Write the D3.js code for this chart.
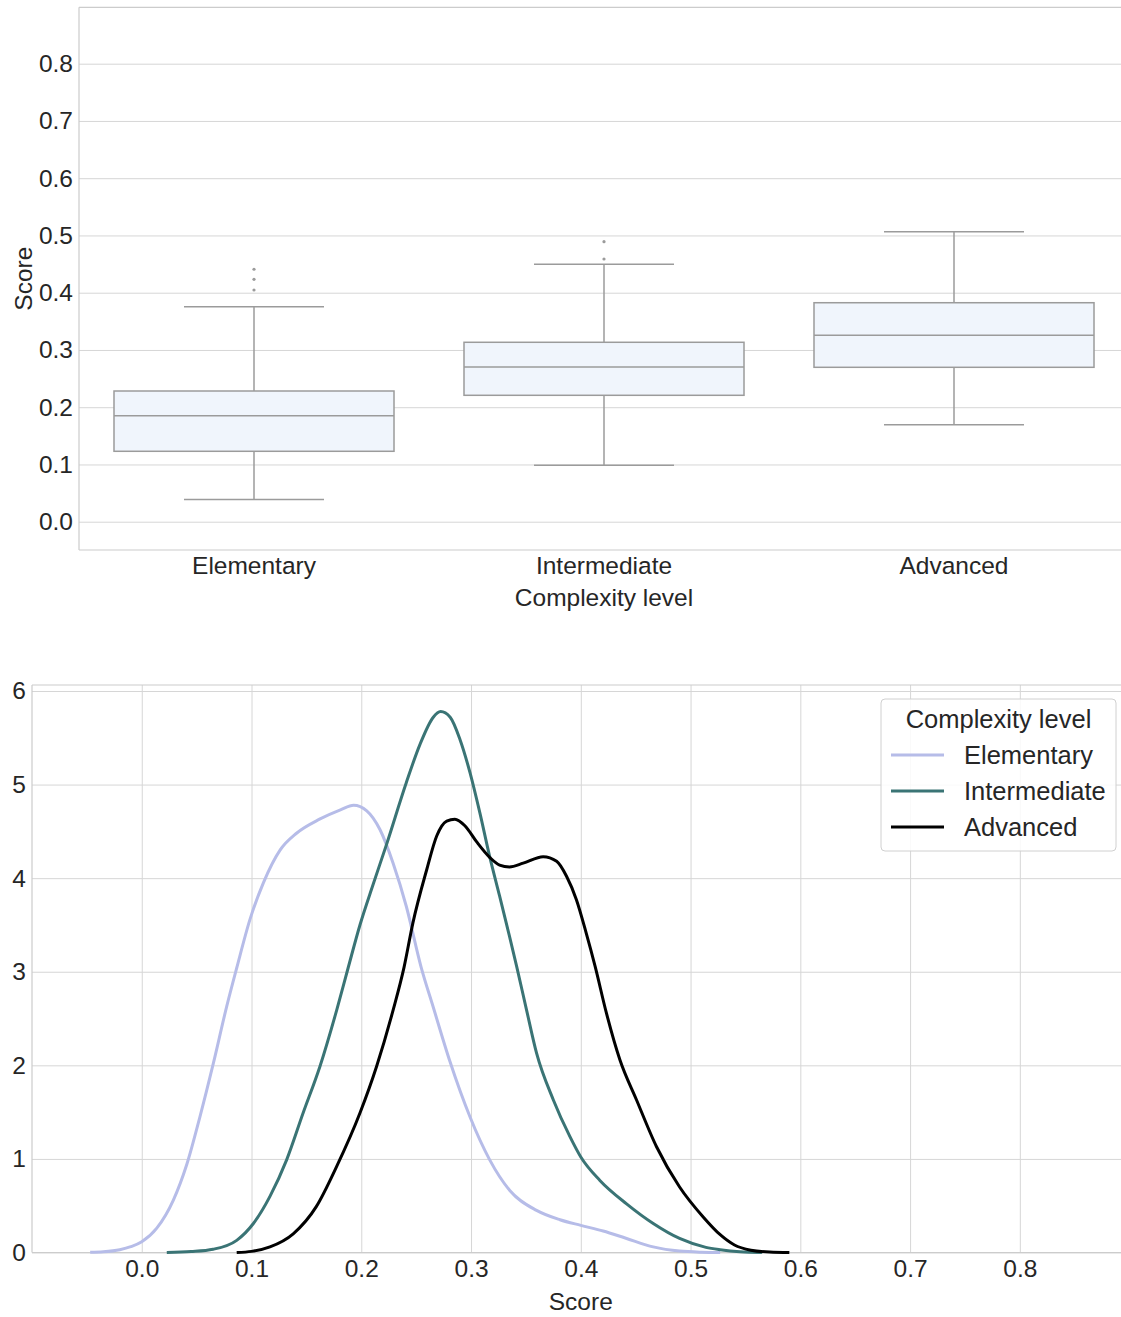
<!DOCTYPE html>
<html>
<head>
<meta charset="utf-8">
<script src="https://cdn.jsdelivr.net/npm/d3@7"></script>
<style>
  html, body { margin: 0; padding: 0; background: #ffffff; }
  svg { display: block; font-family: "Liberation Sans", Arial, Helvetica, sans-serif; }
</style>
</head>
<body>
<svg id="chart" width="1121" height="1317"></svg>
<script>
// ---------- DATA ----------
const categories = ["Elementary", "Intermediate", "Advanced"];
const whiskerLow  = [0.039, 0.0985, 0.1694];
const q1          = [0.123, 0.2208, 0.2697];
const medians     = [0.185, 0.2702, 0.3255];
const q3          = [0.2283, 0.3134, 0.3825];
const whiskerHigh = [0.3756, 0.4496, 0.5066];
const outliers    = [[0.4047, 0.4234, 0.441], [0.4589, 0.4891], []];

const boxYTicks = [0.0, 0.1, 0.2, 0.3, 0.4, 0.5, 0.6, 0.7, 0.8];
const kdeXTicks = [0.0, 0.1, 0.2, 0.3, 0.4, 0.5, 0.6, 0.7, 0.8];
const kdeYTicks = [0, 1, 2, 3, 4, 5, 6];

const kdeElementary = [
  [-0.047, 0.002], [-0.035, 0.008], [-0.02, 0.03], [-0.01, 0.062], [0.0, 0.115], [0.0137, 0.26],
  [0.0288, 0.56], [0.041, 0.94], [0.053, 1.45], [0.0652, 2.02], [0.0774, 2.63], [0.0865, 3.04],
  [0.0986, 3.56], [0.1108, 3.95], [0.126, 4.30], [0.141, 4.48], [0.162, 4.63], [0.181, 4.73],
  [0.193, 4.78], [0.205, 4.72], [0.217, 4.52], [0.229, 4.16], [0.241, 3.70], [0.2545, 3.05],
  [0.2656, 2.62], [0.2808, 2.04], [0.299, 1.45], [0.317, 0.99], [0.3355, 0.66], [0.3597, 0.45],
  [0.381, 0.35], [0.4, 0.29], [0.4204, 0.23], [0.4417, 0.15], [0.466, 0.06], [0.49, 0.015],
  [0.51, 0.003], [0.527, 0]
];
const kdeIntermediate = [
  [0.0228, 0], [0.045, 0.01], [0.065, 0.035], [0.0865, 0.13], [0.1017, 0.31], [0.1168, 0.60],
  [0.132, 0.99], [0.147, 1.49], [0.1624, 1.99], [0.1776, 2.59], [0.188, 3.04], [0.1988, 3.50],
  [0.211, 3.94], [0.223, 4.36], [0.241, 5.02], [0.2535, 5.43], [0.2656, 5.72], [0.2723, 5.78],
  [0.281, 5.72], [0.290, 5.48], [0.299, 5.13], [0.308, 4.70], [0.317, 4.23], [0.326, 3.81],
  [0.335, 3.38], [0.3415, 3.06], [0.3506, 2.59], [0.3597, 2.13], [0.375, 1.63], [0.390, 1.24],
  [0.4, 1.02], [0.4174, 0.77], [0.4417, 0.52], [0.466, 0.31], [0.49, 0.15], [0.514, 0.055],
  [0.527, 0.03], [0.545, 0.008], [0.565, 0]
];
const kdeAdvanced = [
  [0.0865, 0], [0.1, 0.012], [0.1168, 0.06], [0.138, 0.20], [0.159, 0.49], [0.1776, 0.92],
  [0.1988, 1.49], [0.214, 1.99], [0.229, 2.59], [0.239, 3.05], [0.247, 3.52], [0.2596, 4.09],
  [0.2687, 4.45], [0.2778, 4.61], [0.2853, 4.63], [0.2944, 4.56], [0.305, 4.39], [0.3172, 4.22],
  [0.326, 4.14], [0.335, 4.12], [0.3475, 4.16], [0.3657, 4.23], [0.378, 4.18], [0.387, 4.02],
  [0.396, 3.77], [0.405, 3.41], [0.413, 3.06], [0.4233, 2.56], [0.4356, 2.06], [0.4508, 1.63],
  [0.469, 1.13], [0.49, 0.70], [0.5115, 0.38], [0.527, 0.19], [0.54, 0.08], [0.555, 0.025],
  [0.572, 0.005], [0.59, 0]
];
const kdeSeries = [kdeElementary, kdeIntermediate, kdeAdvanced];
const seriesColors = ["#b6bce8", "#3a7475", "#000000"];

// ---------- STYLE ----------
const FS = 24.5;
const LEG_FS = 25.5;
const TEXT = "#262626";
const GRID = "#d6d6d6";
const SPINE = "#cccccc";
const BOX_FILL = "#f0f5fc";
const BOX_LINE = "#9b9b9b";
const LW = 3;

const svg = d3.select("#chart");
svg.append("rect").attr("width", 1121).attr("height", 1317).attr("fill", "#ffffff");

// ================= TOP PANEL: BOXPLOT =================
const boxArea = { left: 79, right: 1129, top: 7.3, bottom: 550 };
const xB = d3.scaleBand().domain(categories).range([boxArea.left, boxArea.right]).padding(0);
const yB = d3.scaleLinear().domain([-0.0494, 0.8985]).range([boxArea.bottom, boxArea.top]);

const gTop = svg.append("g");

const yAxisTop = gTop.append("g")
  .attr("transform", `translate(${boxArea.left},0)`)
  .call(d3.axisLeft(yB).tickValues(boxYTicks).tickFormat(d3.format(".1f"))
        .tickSize(-(boxArea.right - boxArea.left)).tickPadding(6));
yAxisTop.select(".domain").remove();
yAxisTop.selectAll("line").attr("stroke", GRID).attr("stroke-width", 1);
yAxisTop.selectAll("text").attr("fill", TEXT).attr("font-size", FS)
  .attr("font-family", "Liberation Sans, Arial, sans-serif");

gTop.append("line").attr("x1", boxArea.left).attr("x2", boxArea.left).attr("y1", boxArea.top).attr("y2", boxArea.bottom)
  .attr("stroke", SPINE).attr("stroke-width", 1.2);
gTop.append("line").attr("x1", boxArea.left).attr("x2", boxArea.right).attr("y1", boxArea.bottom).attr("y2", boxArea.bottom)
  .attr("stroke", SPINE).attr("stroke-width", 1.2);
gTop.append("line").attr("x1", boxArea.left).attr("x2", boxArea.right).attr("y1", boxArea.top).attr("y2", boxArea.top)
  .attr("stroke", SPINE).attr("stroke-width", 1.2);

const xAxisTop = gTop.append("g")
  .attr("transform", `translate(0,${boxArea.bottom})`)
  .call(d3.axisBottom(xB).tickSize(0).tickPadding(7));
xAxisTop.select(".domain").remove();
xAxisTop.selectAll("text").attr("fill", TEXT).attr("font-size", FS)
  .attr("font-family", "Liberation Sans, Arial, sans-serif");

const bw = xB.bandwidth() * 0.8;
categories.forEach((c, i) => {
  const cx = xB(c) + xB.bandwidth() / 2;
  const g = gTop.append("g");
  g.append("line").attr("x1", cx).attr("x2", cx).attr("y1", yB(q3[i])).attr("y2", yB(whiskerHigh[i]))
    .attr("stroke", BOX_LINE).attr("stroke-width", 1.5);
  g.append("line").attr("x1", cx).attr("x2", cx).attr("y1", yB(q1[i])).attr("y2", yB(whiskerLow[i]))
    .attr("stroke", BOX_LINE).attr("stroke-width", 1.5);
  [whiskerHigh[i], whiskerLow[i]].forEach(v => {
    g.append("line").attr("x1", cx - bw / 4).attr("x2", cx + bw / 4).attr("y1", yB(v)).attr("y2", yB(v))
      .attr("stroke", BOX_LINE).attr("stroke-width", 1.5);
  });
  g.append("rect").attr("x", cx - bw / 2).attr("width", bw)
    .attr("y", yB(q3[i])).attr("height", yB(q1[i]) - yB(q3[i]))
    .attr("fill", BOX_FILL).attr("stroke", BOX_LINE).attr("stroke-width", 1.5);
  g.append("line").attr("x1", cx - bw / 2).attr("x2", cx + bw / 2).attr("y1", yB(medians[i])).attr("y2", yB(medians[i]))
    .attr("stroke", BOX_LINE).attr("stroke-width", 1.5);
  outliers[i].forEach(v => {
    g.append("circle").attr("cx", cx).attr("cy", yB(v)).attr("r", 1.6)
      .attr("fill", BOX_LINE);
  });
});

gTop.append("text").attr("x", (boxArea.left + boxArea.right) / 2).attr("y", 606)
  .attr("text-anchor", "middle").attr("font-size", FS).attr("fill", TEXT).text("Complexity level");
gTop.append("text").attr("transform", `translate(32,${(boxArea.top + boxArea.bottom) / 2}) rotate(-90)`)
  .attr("text-anchor", "middle").attr("font-size", FS).attr("fill", TEXT).text("Score");

// ================= BOTTOM PANEL: KDE =================
const kdeArea = { left: 32, right: 1129.6, top: 685, bottom: 1252.5 };
const xK = d3.scaleLinear().domain([-0.1, 0.9]).range([kdeArea.left, kdeArea.right]);
const yK = d3.scaleLinear().domain([0, 6.064]).range([kdeArea.bottom, kdeArea.top]);

const gBot = svg.append("g");

const yAxisBot = gBot.append("g")
  .attr("transform", `translate(${kdeArea.left},0)`)
  .call(d3.axisLeft(yK).tickValues(kdeYTicks).tickFormat(d3.format("d"))
        .tickSize(-(kdeArea.right - kdeArea.left)).tickPadding(6));
yAxisBot.select(".domain").remove();
yAxisBot.selectAll("line").attr("stroke", GRID).attr("stroke-width", 1);
yAxisBot.selectAll("text").attr("fill", TEXT).attr("font-size", FS)
  .attr("font-family", "Liberation Sans, Arial, sans-serif");

const xAxisBot = gBot.append("g")
  .attr("transform", `translate(0,${kdeArea.bottom})`)
  .call(d3.axisBottom(xK).tickValues(kdeXTicks).tickFormat(d3.format(".1f"))
        .tickSize(-(kdeArea.bottom - kdeArea.top)).tickPadding(7));
xAxisBot.select(".domain").remove();
xAxisBot.selectAll("line").attr("stroke", GRID).attr("stroke-width", 1);
xAxisBot.selectAll("text").attr("fill", TEXT).attr("font-size", FS)
  .attr("font-family", "Liberation Sans, Arial, sans-serif");

gBot.append("line").attr("x1", kdeArea.left).attr("x2", kdeArea.left).attr("y1", kdeArea.top).attr("y2", kdeArea.bottom)
  .attr("stroke", SPINE).attr("stroke-width", 1.2);
gBot.append("line").attr("x1", kdeArea.left).attr("x2", kdeArea.right).attr("y1", kdeArea.bottom).attr("y2", kdeArea.bottom)
  .attr("stroke", SPINE).attr("stroke-width", 1.2);
gBot.append("line").attr("x1", kdeArea.left).attr("x2", kdeArea.right).attr("y1", kdeArea.top).attr("y2", kdeArea.top)
  .attr("stroke", SPINE).attr("stroke-width", 1.2);

const line = d3.line().x(d => xK(d[0])).y(d => yK(d[1])).curve(d3.curveMonotoneX);
kdeSeries.forEach((s, i) => {
  gBot.append("path").datum(s).attr("d", line).attr("fill", "none")
    .attr("stroke", seriesColors[i]).attr("stroke-width", LW)
    .attr("stroke-linejoin", "round").attr("stroke-linecap", "butt");
});

gBot.append("text").attr("x", (kdeArea.left + kdeArea.right) / 2).attr("y", 1310)
  .attr("text-anchor", "middle").attr("font-size", FS).attr("fill", TEXT).text("Score");

// legend
const lg = gBot.append("g").attr("transform", "translate(881,699)");
lg.append("rect").attr("width", 235).attr("height", 152).attr("rx", 4).attr("ry", 4)
  .attr("fill", "#ffffff").attr("fill-opacity", 0.85).attr("stroke", "#d0d0d0").attr("stroke-width", 1);
lg.append("text").attr("x", 117.5).attr("y", 28.5).attr("text-anchor", "middle")
  .attr("font-size", LEG_FS).attr("fill", TEXT).text("Complexity level");
categories.forEach((c, i) => {
  const yy = 56 + i * 36;
  lg.append("line").attr("x1", 10).attr("x2", 63).attr("y1", yy).attr("y2", yy)
    .attr("stroke", seriesColors[i]).attr("stroke-width", LW);
  lg.append("text").attr("x", 83).attr("y", yy).attr("dy", "0.35em")
    .attr("font-size", LEG_FS).attr("fill", TEXT).text(c);
});
</script>
</body>
</html>
